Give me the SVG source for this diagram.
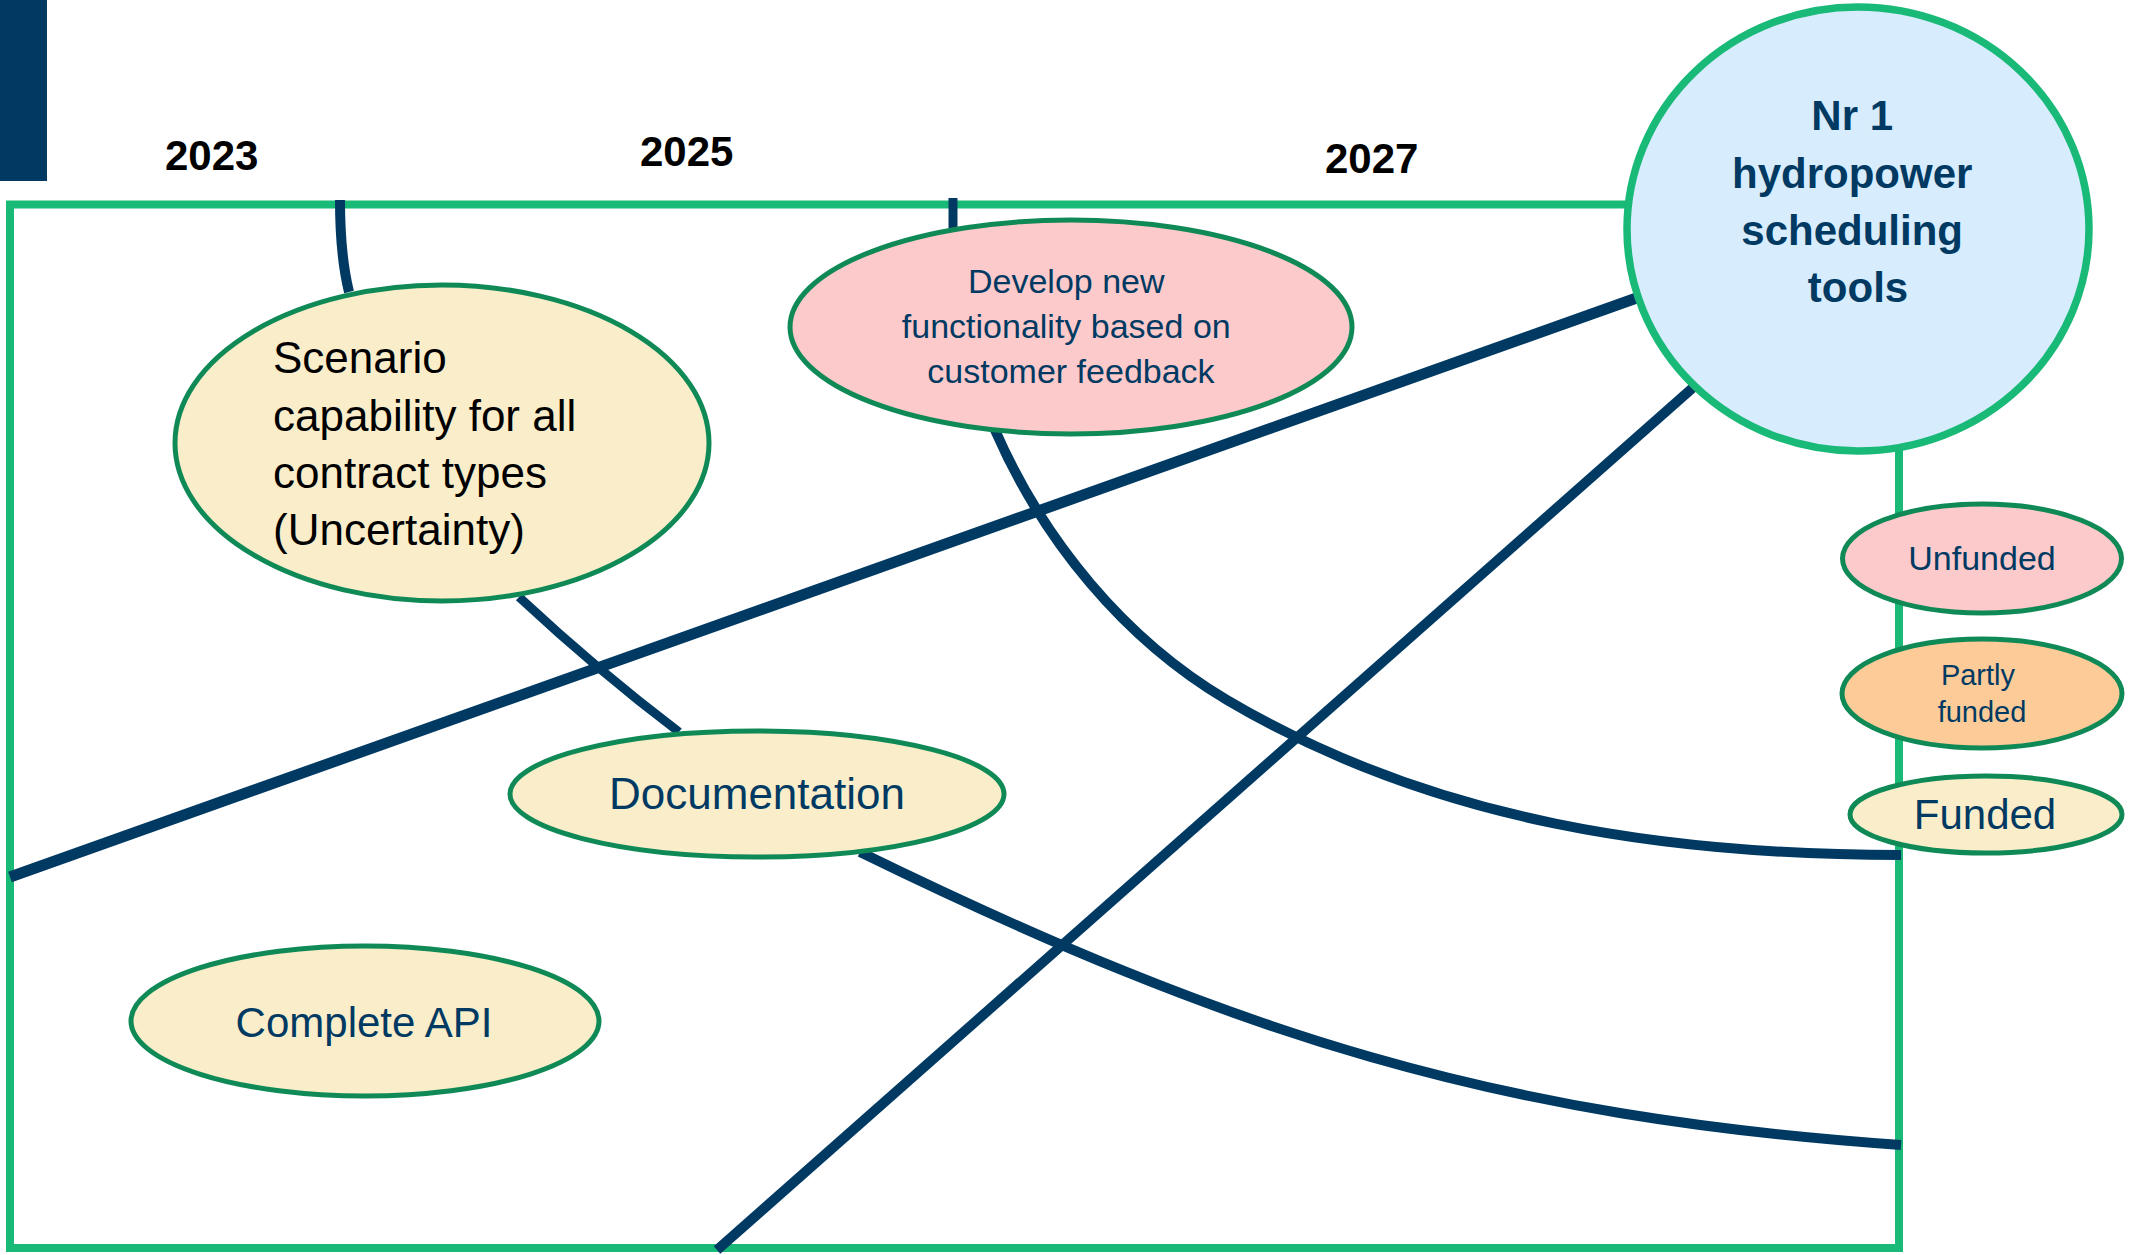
<svg xmlns="http://www.w3.org/2000/svg" width="2136" height="1255" viewBox="0 0 2136 1255">
<style>
.frame{fill:none;stroke:#19b978;stroke-width:8}
.conn{fill:none;stroke:#003a63;stroke-linecap:butt}
.node{stroke:#0f8a57;stroke-width:5}
.cream{fill:#f9edca}
.pink{fill:#fccaca}
.orange{fill:#fccb98}
.t{font-family:"Liberation Sans",Arial,sans-serif;fill:#003a63;text-anchor:middle}
.yr{font-family:"Liberation Sans",Arial,sans-serif;font-weight:bold;font-size:42px;fill:#000}
</style>
<rect x="0" y="0" width="47" height="181" fill="#003a63"/>
<g id="years">
<text class="yr" x="165" y="170">2023</text>
<text class="yr" x="640" y="166">2025</text>
<text class="yr" x="1325" y="173">2027</text>
</g>
<rect id="frame" class="frame" x="10" y="204.5" width="1889" height="1043.5"/>
<g id="connectors">
<path class="conn" stroke-width="10" d="M340,200 Q340,255 349,292"/>
<path class="conn" stroke-width="9" d="M953,198 L953,235"/>
<path class="conn" stroke-width="9" d="M519,597 Q599,671.5 679,732"/>
<path class="conn" stroke-width="10" d="M860,852 C1237,1036 1498,1117 1901,1145"/>
<path class="conn" stroke-width="10" d="M995,430 C1043,540 1124,639 1227,700 C1435,823 1670,855 1901,855"/>
<path class="conn" stroke-width="11" d="M10,877 L1645,295"/>
<path class="conn" stroke-width="10" d="M717,1250 L1705,377"/>
</g>
<g id="n-scenario">
<ellipse class="node cream" cx="442" cy="443" rx="267" ry="158"/>
<text font-family="Liberation Sans,Arial,sans-serif" font-size="44" fill="#000">
<tspan x="273" y="373">Scenario</tspan>
<tspan x="273" y="431">capability for all</tspan>
<tspan x="273" y="488">contract types</tspan>
<tspan x="273" y="545">(Uncertainty)</tspan>
</text>
</g>
<g id="n-develop">
<ellipse class="node pink" cx="1071" cy="327" rx="281" ry="107"/>
<text class="t" font-size="34">
<tspan x="1071" y="293">Develop new</tspan>
<tspan x="1071" y="338">functionality based on</tspan>
<tspan x="1071" y="383">customer feedback</tspan>
</text>
</g>
<g id="n-documentation">
<ellipse class="node cream" cx="757" cy="794" rx="247" ry="63"/>
<text class="t" font-size="44" x="757" y="809">Documentation</text>
</g>
<g id="n-api">
<ellipse class="node cream" cx="365" cy="1021" rx="234" ry="75"/>
<text class="t" font-size="42" x="364" y="1037">Complete API</text>
</g>
<g id="n-goal">
<ellipse cx="1858" cy="229" rx="231" ry="222" fill="#d7ecfd" stroke="#19b978" stroke-width="7.5"/>
<text class="t" font-size="42" font-weight="bold">
<tspan x="1858" y="130">Nr 1</tspan>
<tspan x="1858" y="188">hydropower</tspan>
<tspan x="1858" y="245">scheduling</tspan>
<tspan x="1858" y="302">tools</tspan>
</text>
</g>
<g id="legend-unfunded">
<ellipse class="node pink" cx="1982" cy="558.5" rx="139.5" ry="54.5"/>
<text class="t" font-size="34" x="1982" y="570">Unfunded</text>
</g>
<g id="legend-partly">
<ellipse class="node orange" cx="1982" cy="693.5" rx="140" ry="54.5"/>
<text class="t" font-size="29">
<tspan x="1982" y="685">Partly</tspan>
<tspan x="1982" y="722">funded</tspan>
</text>
</g>
<g id="legend-funded">
<ellipse class="node cream" cx="1986" cy="814.5" rx="136" ry="38.5"/>
<text class="t" font-size="42" x="1985" y="829">Funded</text>
</g>
</svg>
